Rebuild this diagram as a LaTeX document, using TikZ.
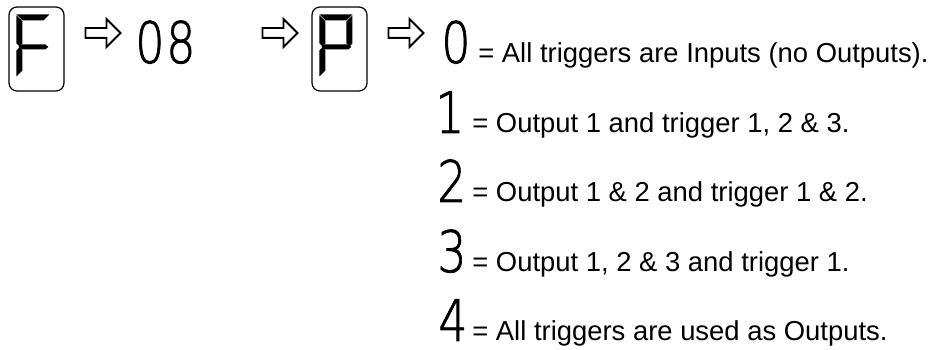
\documentclass[tikz,border=0pt]{standalone}
\usepackage{fontspec}
\setmainfont{Liberation Sans}
\newfontfamily\digitfont{DejaVu Sans ExtraLight}[FakeBold=1.4]
\usetikzlibrary{shapes.arrows}
\newcommand{\bigdigit}[1]{\scalebox{0.8}[1]{\digitfont\fontsize{32.6}{40}\selectfont #1}}
% seven segment pieces, px units from the box corner
\newcommand{\segA}{\fill[seg] (8,8) -- (41,8) -- (35,14) -- (14,14) -- cycle;}
\newcommand{\segB}{\fill[seg] (41,9) -- (41,37) -- (38,40) -- (35,37) -- (35,15) -- cycle;}
\newcommand{\segF}{\fill[seg] (8,9) -- (14,15) -- (14,37) -- (11,40) -- (8,37) -- cycle;}
\newcommand{\segG}{\fill[seg] (10,40.5) -- (13,38) -- (37,38) -- (40,40.5) -- (37,43) -- (13,43) -- cycle;}
\newcommand{\segE}{\fill[seg] (8,44) -- (11,41) -- (14,44) -- (14,64) -- (8,70) -- cycle;}
\tikzset{
	seg/.style={fill=black},
	dispbox/.style={draw, line width=0.7pt, rounded corners=0.16cm, minimum width=1.1cm, minimum height=1.68cm, inner sep=0pt},
	hollow/.style={single arrow, draw, line width=1.1pt, minimum height=0.7cm, minimum width=0.52cm, single arrow head extend=0.18cm, inner xsep=0pt, inner ysep=0.08cm},
	digit/.style={anchor=base west, inner sep=0pt},
	desc/.style={anchor=base west, inner sep=0pt, font=\fontsize{15.6}{18}\selectfont}
}
\begin{document}
\begin{tikzpicture}[x=0.02cm, y=-0.02cm]
		\useasboundingbox (0,0) rectangle (929,350);
		
		%%%%% parameter path %%%%%
		\node[dispbox] (fbox) at (36.5,49) {};
		\begin{scope}[shift={(fbox.north west)}]
			\segA \segF \segG \segE
		\end{scope}
		
		\node[hollow] (arrF) at (100.5,33) {};
		\node[digit] (val08) at (135,63) {\bigdigit{0\kern0.04em 8}};
		\node[hollow] (arrN) at (277.5,33) {};
		
		\node[dispbox] (pbox) at (339.5,49) {};
		\begin{scope}[shift={(pbox.north west)}]
			\segA \segB \segF \segG \segE
		\end{scope}
		
		\node[hollow] (arrP) at (403.5,33) {};
		
		%%%%% values %%%%%
		\node[digit] (d0) at (441,63) {\bigdigit{0}};
		\node[digit] (d1) at (435,133) {\bigdigit{1}};
		\node[digit] (d2) at (437,202) {\bigdigit{2}};
		\node[digit] (d3) at (437,272) {\bigdigit{3}};
		\node[digit] (d4) at (438,341) {\bigdigit{4}};
		
		\node[desc] (t0) at (478,63) {= All triggers are Inputs (no Outputs).};
		\node[desc] (t1) at (472,133) {= Output 1 and trigger 1, 2 \& 3.};
		\node[desc] (t2) at (472,202) {= Output 1 \& 2 and trigger 1 \& 2.};
		\node[desc] (t3) at (472,272) {= Output 1, 2 \& 3 and trigger 1.};
		\node[desc] (t4) at (472,341) {= All triggers are used as Outputs.};
	\end{tikzpicture}
\end{document}
